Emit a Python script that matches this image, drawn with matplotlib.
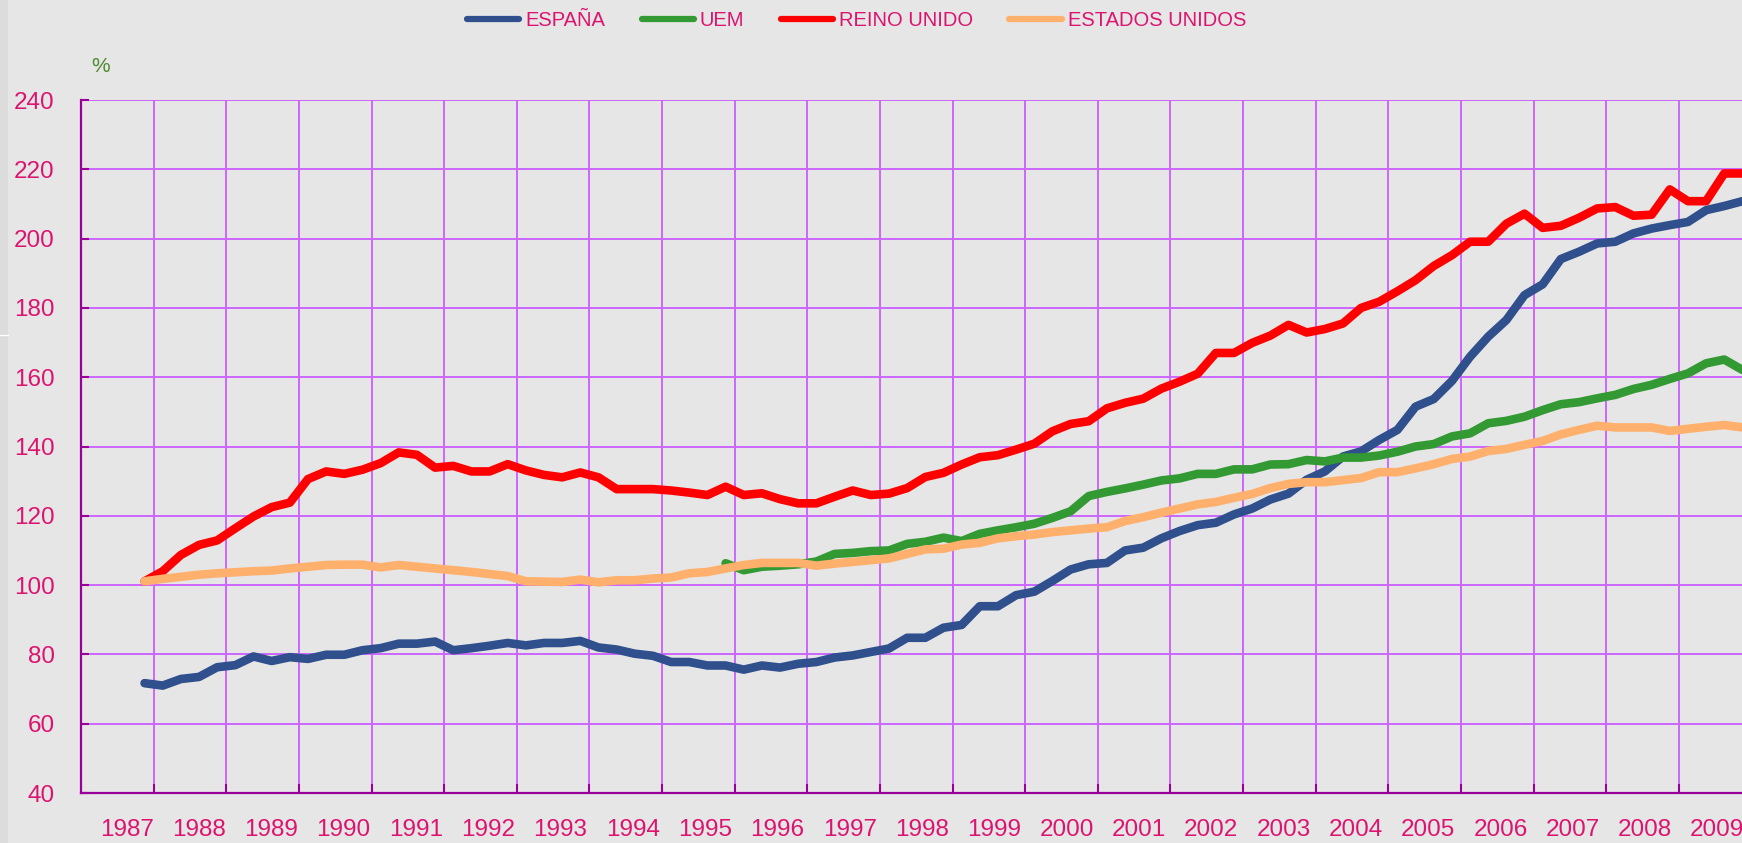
import pandas as pd
import matplotlib
matplotlib.use("Agg")
import matplotlib.pyplot as plt
import numpy as np

plt.rcParams['font.family'] = ['Liberation Sans', 'DejaVu Sans']

# quarterly observations, 1987-IV .. 2009-IV
quarters = pd.period_range('1987Q4', '2009Q4', freq='Q')

espana = [71.7, 71.0, 72.9, 73.5, 76.3, 76.9, 79.4, 78.1, 79.2, 78.7,
          79.9, 79.9, 81.2, 81.8, 83.1, 83.1, 83.7, 81.2, 81.8, 82.5,
          83.3, 82.6, 83.3, 83.3, 83.9, 82.0, 81.4, 80.2, 79.6, 77.8,
          77.8, 76.8, 76.8, 75.6, 76.8, 76.2, 77.3, 77.8, 79.1, 79.7,
          80.7, 81.7, 84.8, 84.8, 87.7, 88.5, 93.9, 93.9, 97.1, 98.1,
          101.2, 104.5, 106.0, 106.4, 110.0, 110.8, 113.5, 115.6, 117.3, 118.0,
          120.4, 122.1, 124.7, 126.4, 130.4, 132.8, 137.1, 138.6, 141.9, 144.8,
          151.5, 153.7, 158.9, 165.9, 171.7, 176.5, 183.7, 186.8, 194.1, 196.2,
          198.6, 199.1, 201.5, 202.9, 203.9, 204.8, 208.2, 209.4, 210.8]

# UEM series only starts in 1995-IV
uem_start = '1995Q4'
uem = [106.3, 104.3, 105.3, 105.6, 106.0, 106.8, 109.0, 109.3, 109.8, 110.0,
       111.9, 112.5, 113.7, 112.7, 114.8, 115.8, 116.7, 117.7, 119.4, 121.3,
       125.7, 126.9, 127.9, 129.0, 130.2, 130.8, 132.1, 132.1, 133.4, 133.4,
       134.8, 134.9, 136.1, 135.7, 136.8, 136.8, 137.4, 138.5, 140.0, 140.7,
       142.9, 143.8, 146.7, 147.4, 148.6, 150.5, 152.2, 152.8, 153.9, 154.9,
       156.6, 157.8, 159.5, 161.1, 164.0, 165.1, 162.1]

reino_unido = [101.1, 104.0, 108.7, 111.6, 112.9, 116.4, 119.8, 122.5, 123.8, 130.6,
               132.8, 132.1, 133.3, 135.2, 138.3, 137.6, 133.9, 134.4, 132.8, 132.8,
               134.9, 133.1, 131.8, 131.1, 132.5, 131.1, 127.7, 127.7, 127.7, 127.3,
               126.7, 126.0, 128.4, 126.0, 126.5, 124.8, 123.6, 123.6, 125.5, 127.3,
               126.0, 126.4, 128.0, 131.2, 132.4, 134.8, 136.9, 137.5, 139.1, 140.8,
               144.4, 146.5, 147.3, 151.0, 152.6, 153.8, 156.7, 158.7, 161.0, 167.0,
               167.0, 169.9, 172.0, 175.1, 172.9, 173.9, 175.5, 180.0, 181.8, 184.8,
               188.0, 192.1, 195.2, 199.1, 199.1, 204.3, 207.2, 203.1, 203.7, 206.0,
               208.7, 209.1, 206.6, 206.9, 214.2, 210.8, 210.8, 218.8, 218.8]

estados_unidos = [101.1, 101.8, 102.4, 103.0, 103.4, 103.7, 104.0, 104.2, 104.8, 105.3,
                  105.8, 105.9, 105.9, 105.1, 105.8, 105.3, 104.8, 104.3, 103.8, 103.2,
                  102.6, 101.1, 101.0, 100.9, 101.6, 100.8, 101.4, 101.4, 101.9, 102.2,
                  103.4, 103.8, 104.8, 105.8, 106.4, 106.4, 106.4, 105.6, 106.2, 106.7,
                  107.2, 107.7, 109.0, 110.3, 110.5, 111.7, 112.2, 113.5, 114.1, 114.6,
                  115.3, 115.8, 116.3, 116.7, 118.5, 119.6, 120.9, 122.1, 123.3, 124.0,
                  125.2, 126.3, 128.0, 129.2, 129.7, 129.7, 130.3, 130.9, 132.6, 132.6,
                  133.7, 134.9, 136.4, 137.1, 138.7, 139.3, 140.5, 141.6, 143.5, 144.8,
                  146.0, 145.5, 145.5, 145.5, 144.5, 145.1, 145.7, 146.2, 145.5]

year_labels = list(range(1987, 2010))

BG = '#E6E6E6'
PINK = '#DC1470'
SPINE = '#990099'
GRID = '#CC66FF'

# decimal-year position of each quarter (middle of the quarter)
x = quarters.year + (quarters.quarter - 0.5) / 4.0
x_uem = x[list(quarters.astype(str)).index(uem_start):]

fig = plt.figure(figsize=(17.42, 8.43), dpi=100, facecolor=BG)
# slightly darker strip at the left edge
fig.patches.append(plt.Rectangle((0, 0), 8 / 1742, 1, transform=fig.transFigure,
                                 facecolor='#DCDCDC', edgecolor='none'))
fig.lines.append(plt.Line2D([0, 8 / 1742], [1 - 335 / 843] * 2, transform=fig.transFigure,
                            color='white', lw=1))

ax = fig.add_axes([81 / 1742, 50 / 843, (1742 - 81) / 1742, 693 / 843])
ax.set_facecolor(BG)

lw = 6.2
ax.plot(x, espana, color='#2F4F8D', lw=lw, solid_capstyle='round', label='ESPAÑA', zorder=3)
ax.plot(x_uem, uem, color='#339933', lw=lw, solid_capstyle='round', label='UEM', zorder=3)
ax.plot(x, reino_unido, color='#FF0000', lw=lw, solid_capstyle='round', label='REINO UNIDO', zorder=3)
ax.plot(x, estados_unidos, color='#FFB06C', lw=lw, solid_capstyle='round', label='ESTADOS UNIDOS', zorder=3)

ax.set_xlim(1987, 1987 + 1661 / 72.63)
ax.set_ylim(40, 240)

# major ticks on year boundaries (grid), labels in between
ax.set_xticks(np.arange(1988, 2010))
ax.set_xticklabels([])
lab_pos = np.array(year_labels) + 0.63 - 0.0046 * (np.array(year_labels) - 1987)
ax.set_xticks(lab_pos, minor=True)
ax.set_xticklabels([str(y) for y in year_labels], minor=True)
ax.tick_params(axis='x', which='minor', length=0, pad=19, labelsize=17.5, labelcolor=PINK)
ax.tick_params(axis='x', which='major', direction='in', length=6.5, width=1.5, color=SPINE)

ax.set_yticks(np.arange(40, 241, 20))
ax.tick_params(axis='y', direction='in', length=6, width=1.5, color=SPINE,
               pad=19, labelsize=17.5, labelcolor=PINK)

ax.grid(True, which='major', color=GRID, lw=1.4, zorder=1)
ax.set_axisbelow(True)
for side in ('top', 'right'):
    ax.spines[side].set_visible(False)
for side in ('left', 'bottom'):
    ax.spines[side].set_color(SPINE)
    ax.spines[side].set_linewidth(1.6)
    ax.spines[side].set_zorder(4)

fig.text(91 / 1742, 1 - 67 / 843, '%', color='#4E8A2E', fontsize=15, va='center', ha='left')

leg = ax.legend(loc='center left', bbox_to_anchor=(467 / 1742, 1 - 21 / 843),
                bbox_transform=fig.transFigure, ncol=4, frameon=False,
                fontsize=14.5, handlelength=2.6, handletextpad=0.3,
                columnspacing=1.8, borderpad=0, borderaxespad=0)
for t in leg.get_texts():
    t.set_color(PINK)
for h in leg.get_lines():
    h.set_linewidth(4.5)

fig.savefig('out.png', dpi=100, facecolor=BG)
